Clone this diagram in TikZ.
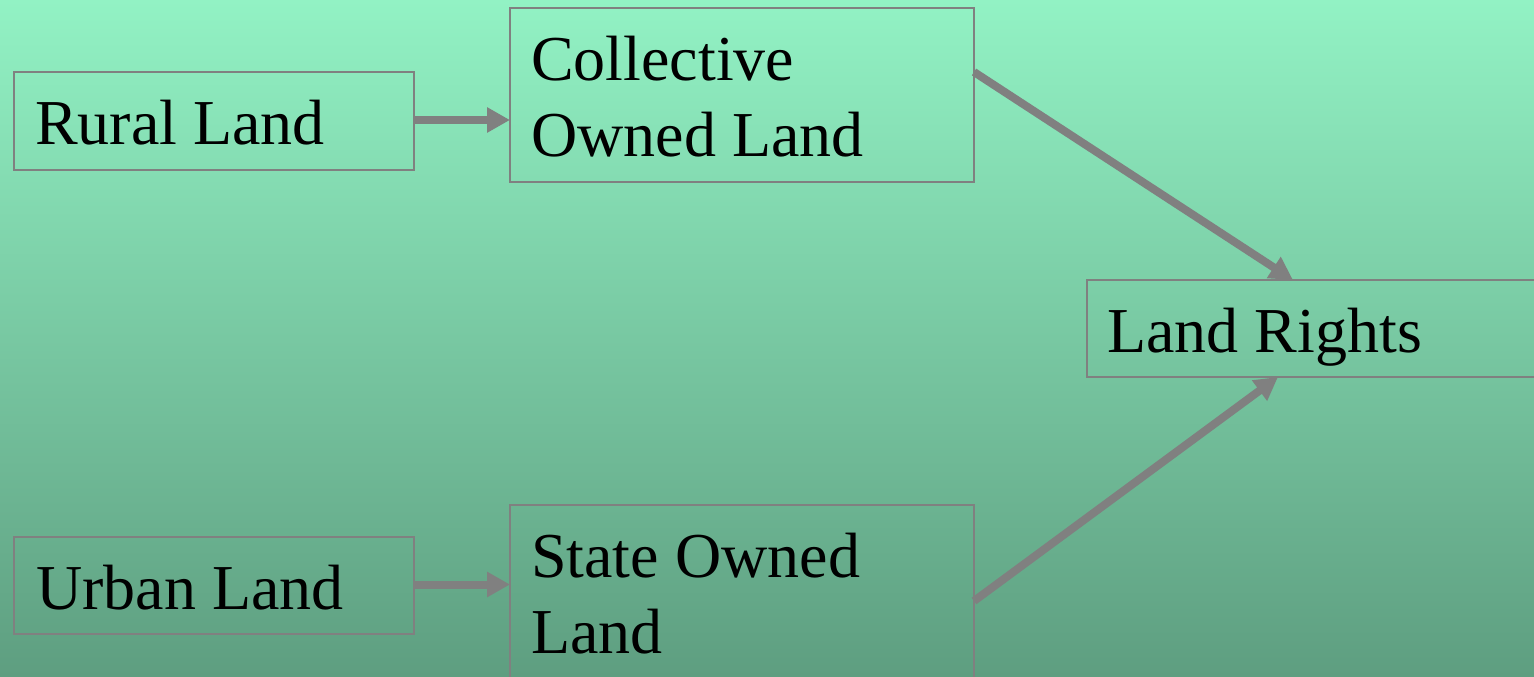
\documentclass[tikz,border=0pt]{standalone}
\usepackage{fontspec}
\setmainfont{Liberation Serif}
\usetikzlibrary{arrows.meta,calc}
\definecolor{bgtop}{RGB}{146,242,196}
\definecolor{bgbot}{RGB}{94,158,128}
\definecolor{edgegray}{RGB}{128,128,128}
\begin{document}
\begin{tikzpicture}[x=1pt,y=-1pt,
  box/.style={draw=edgegray,line width=2pt,rectangle,inner sep=0pt,outer sep=0pt,anchor=north west},
  lbl/.style={anchor=base west,inner sep=0pt,align=left,font=\fontsize{64}{76}\selectfont},
  conn/.style={draw=edgegray,line width=8pt,-{Triangle[length=23pt,width=24pt]}}]
\clip (0pt,0pt) rectangle (1534pt,-677pt);
\shade[top color=bgtop,bottom color=bgbot] (0pt,0pt) rectangle (1534pt,-677pt);
% boxes
\node[box,minimum width=400pt,minimum height=98pt] (rural) at (14,72) {};
\node[box,minimum width=464pt,minimum height=174pt] (coll) at (510,8) {};
\node[box,minimum width=480pt,minimum height=97pt] (rights) at (1087,280) {};
\node[box,minimum width=400pt,minimum height=97pt] (urban) at (14,537) {};
\node[box,minimum width=464pt,minimum height=174pt] (state) at (510,505) {};
% labels (base anchor = baseline of the last line)
\node[lbl] (ruralt) at ($(rural.north west)+(21,72)$) {Rural Land};
\node[lbl] (collt) at ($(coll.north west)+(21,148)$) {Collective\\Owned Land};
\node[lbl] (rightst) at ($(rights.north west)+(20,72)$) {Land Rights};
\node[lbl] (urbant) at ($(urban.north west)+(22,72)$) {Urban Land};
\node[lbl] (statet) at ($(state.north west)+(21,148)$) {State Owned\\Land};
% connectors
\draw[conn] ([yshift=1pt]rural.east) -- ([yshift=1pt]rural.east -| coll.west);
\draw[conn] ([yshift=1pt]urban.east) -- ([yshift=1pt]urban.east -| state.west);
\draw[conn] ($(coll.north east)+(0,64)$) -- ($(rights.north west)+(206,0)$);
\draw[conn] ($(state.north east)+(0,96)$) -- ($(rights.south west)+(191,0)$);
\end{tikzpicture}
\end{document}
